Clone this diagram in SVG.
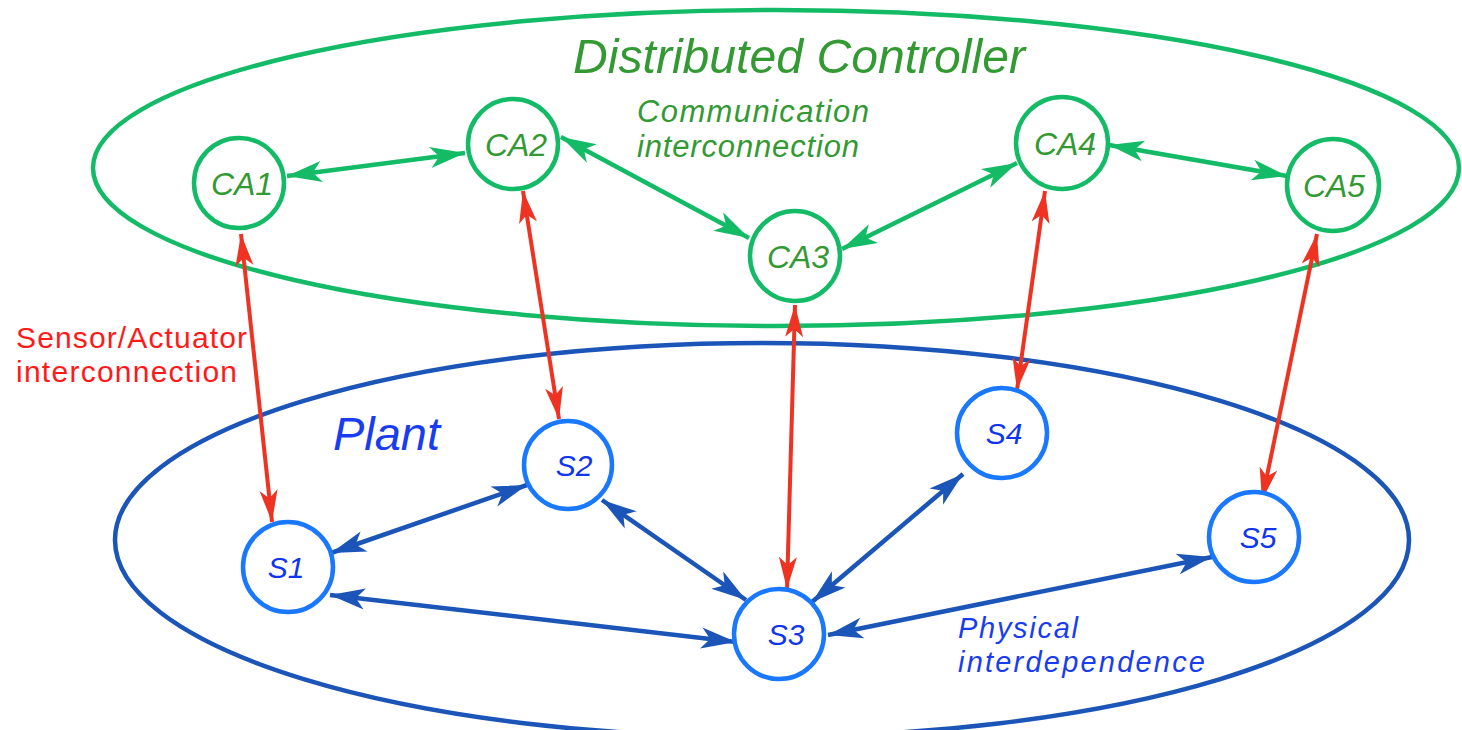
<svg xmlns="http://www.w3.org/2000/svg" width="1462" height="730" viewBox="0 0 1462 730">
  <style>
    .ring { fill: none; stroke-width: 4.5; }
    .ctrl { stroke: #14bb66; }
    .plant { stroke: #1b55b8; }
    .node-ca { fill: #ffffff; stroke: #14bb66; stroke-width: 4.5; }
    .node-s { fill: #ffffff; stroke: #1a78ff; stroke-width: 4.5; }
    .lbl { font-family: "Liberation Sans", Arial, sans-serif; font-style: italic; text-anchor: middle; }
    .lbl-ca { fill: #339933; font-size: 32px; }
    .lbl-s { fill: #1035ee; font-size: 30px; }
    .txt { font-family: "Liberation Sans", Arial, sans-serif; }
    .g-link { stroke: #14bb66; stroke-width: 4.5; fill: none; marker-start: url(#ahG); marker-end: url(#ahG); }
    .r-link { stroke: #ee3322; stroke-width: 4; fill: none; marker-start: url(#ahR); marker-end: url(#ahR); }
    .b-link { stroke: #1b55b8; stroke-width: 4.5; fill: none; marker-start: url(#ahB); marker-end: url(#ahB); }
  </style>
  <defs>
    <marker id="ahG" viewBox="-36 -12 38 24" refX="0" refY="0" markerWidth="38" markerHeight="24" markerUnits="userSpaceOnUse" orient="auto-start-reverse">
      <path d="M0,0 L-35,-10.5 L-26,0 L-35,10.5 Z" fill="#14bb66"/>
    </marker>
    <marker id="ahR" viewBox="-36 -12 38 24" refX="0" refY="0" markerWidth="38" markerHeight="24" markerUnits="userSpaceOnUse" orient="auto-start-reverse">
      <path d="M0,0 L-32,-9 L-24,0 L-32,9 Z" fill="#ee3322"/>
    </marker>
    <marker id="ahB" viewBox="-36 -12 38 24" refX="0" refY="0" markerWidth="38" markerHeight="24" markerUnits="userSpaceOnUse" orient="auto-start-reverse">
      <path d="M0,0 L-35,-10.5 L-26,0 L-35,10.5 Z" fill="#1b55b8"/>
    </marker>
  </defs>

  <rect width="1462" height="730" fill="#ffffff"/>

  <!-- layer boundaries -->
  <g id="controller-layer">
    <ellipse class="ring ctrl" cx="776" cy="168" rx="683" ry="158"/>
    <text class="txt" x="573" y="73" font-size="48" font-style="italic" fill="#339933" textLength="452" lengthAdjust="spacingAndGlyphs">Distributed Controller</text>
  </g>
  <g id="plant-layer">
    <ellipse class="ring plant" cx="762" cy="540" rx="647" ry="197"/>
    <text class="txt" x="333" y="450" font-size="46" font-style="italic" fill="#1a3cf0" textLength="107" lengthAdjust="spacingAndGlyphs">Plant</text>
  </g>

  <!-- connectors -->
  <g id="connectors">
    <line class="g-link" x1="287" y1="176" x2="465" y2="153"/>
    <line class="g-link" x1="561" y1="137" x2="749" y2="238"/>
    <line class="g-link" x1="842" y1="249" x2="1017" y2="163"/>
    <line class="g-link" x1="1109" y1="145" x2="1287" y2="176"/>

    <line class="r-link" x1="241" y1="234" x2="272" y2="522"/>
    <line class="r-link" x1="523" y1="191" x2="559" y2="419"/>
    <line class="r-link" x1="795" y1="305" x2="787" y2="589"/>
    <line class="r-link" x1="1045" y1="191" x2="1017" y2="390"/>
    <line class="r-link" x1="1317" y1="234" x2="1262" y2="500"/>

    <line class="b-link" x1="331" y1="553" x2="527" y2="485"/>
    <line class="b-link" x1="330" y1="595" x2="736" y2="642"/>
    <line class="b-link" x1="602" y1="500" x2="746" y2="600"/>
    <line class="b-link" x1="812" y1="602" x2="963" y2="474"/>
    <line class="b-link" x1="828" y1="635" x2="1212" y2="557"/>
  </g>

  <!-- controller agents -->
  <g id="CA1">
    <circle class="node-ca" cx="239" cy="183" r="45"/>
    <text class="lbl lbl-ca" x="242" y="195">CA1</text>
  </g>
  <g id="CA2">
    <circle class="node-ca" cx="513" cy="144" r="45"/>
    <text class="lbl lbl-ca" x="516" y="156">CA2</text>
  </g>
  <g id="CA3">
    <circle class="node-ca" cx="795" cy="256" r="45"/>
    <text class="lbl lbl-ca" x="798" y="268">CA3</text>
  </g>
  <g id="CA4">
    <circle class="node-ca" cx="1062" cy="143" r="46"/>
    <text class="lbl lbl-ca" x="1065" y="155">CA4</text>
  </g>
  <g id="CA5">
    <circle class="node-ca" cx="1333" cy="185" r="46"/>
    <text class="lbl lbl-ca" x="1334" y="197">CA5</text>
  </g>

  <!-- plant subsystems -->
  <g id="S1">
    <circle class="node-s" cx="288" cy="567" r="45"/>
    <text class="lbl lbl-s" x="286" y="578">S1</text>
  </g>
  <g id="S2">
    <circle class="node-s" cx="568" cy="465" r="44"/>
    <text class="lbl lbl-s" x="574" y="476">S2</text>
  </g>
  <g id="S3">
    <circle class="node-s" cx="779" cy="634" r="45"/>
    <text class="lbl lbl-s" x="786" y="645">S3</text>
  </g>
  <g id="S4">
    <circle class="node-s" cx="1002" cy="433" r="45"/>
    <text class="lbl lbl-s" x="1004" y="444">S4</text>
  </g>
  <g id="S5">
    <circle class="node-s" cx="1254" cy="537" r="45"/>
    <text class="lbl lbl-s" x="1258" y="548">S5</text>
  </g>

  <!-- annotations -->
  <g id="annotations">
    <text class="txt" font-size="31" font-style="italic" fill="#339933">
      <tspan x="637" y="122" textLength="232" lengthAdjust="spacing">Communication</tspan>
      <tspan x="637" y="157" textLength="222" lengthAdjust="spacing">interconnection</tspan>
    </text>
    <text class="txt" font-size="30" fill="#ff1a1a">
      <tspan x="16" y="348" textLength="231" lengthAdjust="spacing">Sensor/Actuator</tspan>
      <tspan x="16" y="382" textLength="221" lengthAdjust="spacing">interconnection</tspan>
    </text>
    <text class="txt" font-size="29" font-style="italic" fill="#1a3cf0">
      <tspan x="958" y="638" textLength="120" lengthAdjust="spacing">Physical</tspan>
      <tspan x="958" y="672" textLength="247" lengthAdjust="spacing">interdependence</tspan>
    </text>
  </g>
</svg>
